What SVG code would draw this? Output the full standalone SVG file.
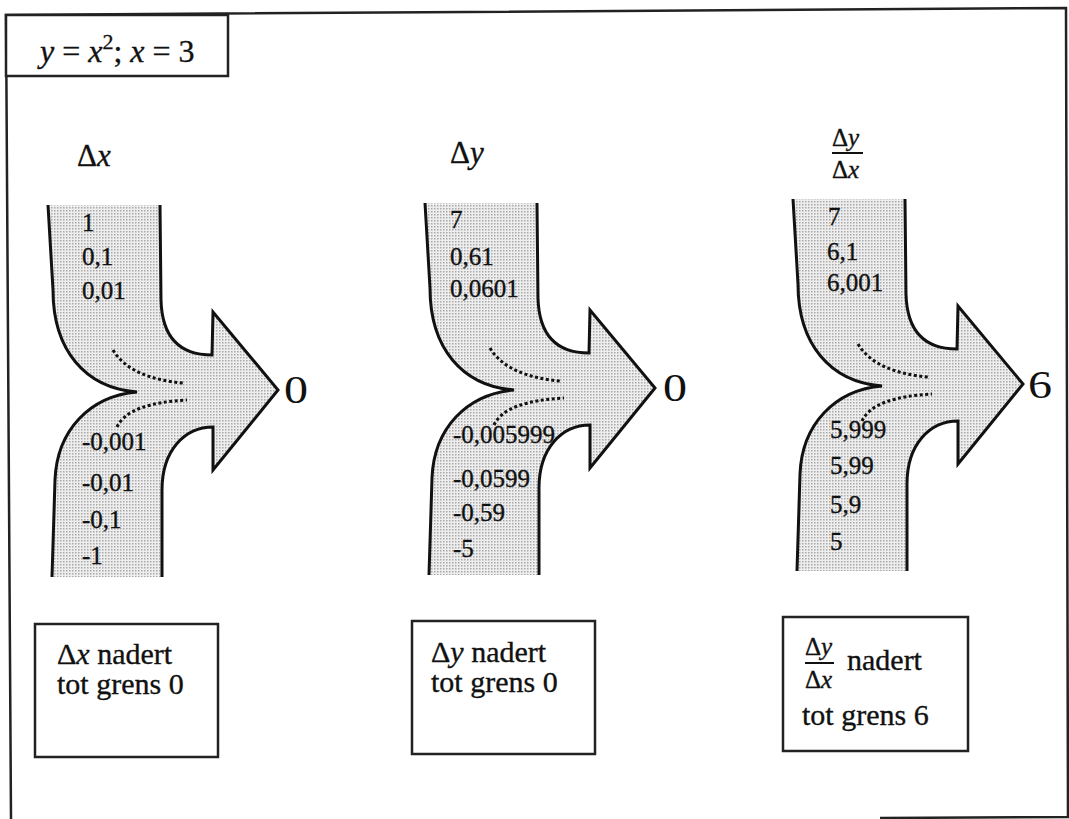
<svg xmlns="http://www.w3.org/2000/svg" xmlns:xlink="http://www.w3.org/1999/xlink" width="1069" height="819" viewBox="0 0 1069 819" font-family="'Liberation Serif', 'Times New Roman', serif">
<style>
  text { font-family: "Liberation Serif", "Times New Roman", serif; fill: #111; stroke: #111; stroke-width: 0.35; }
  .num { font-size: 25px; }
  .hdr { font-size: 31px; }
  .frac { font-size: 25px; }
  .box { font-size: 30px; }
  .big { font-size: 40px; stroke-width: 0; }
  .it { font-style: italic; }
  .edge { fill: none; stroke: #111; stroke-width: 3; stroke-linejoin: miter; }
  .dots { fill: none; stroke: #111; stroke-width: 3; stroke-dasharray: 3 2.5; }
  .frame { fill: none; stroke: #222; stroke-width: 2.5; }
  .rbox { fill: #fff; stroke: #222; stroke-width: 2.5; }
</style>
<defs>
  <pattern id="dotfill" width="3" height="3" patternUnits="userSpaceOnUse">
    <rect width="3" height="3" fill="#eeeeee"/>
    <rect width="1.5" height="1.5" fill="#a9a9a9"/>
  </pattern>
  <g id="arrow">
    <path fill="url(#dotfill)" d="M48,205 L53,290 C53,350 85,388 137,392 C90,396 57,430 55,480 L52,577 L162,577 L162,490 C162,450 185,427 213,427 L213,470 L278,390 L213,312 L212,355 C180,355 162,338 161,300 L160,205 Z"/>
    <path class="edge" d="M48,205 L53,290 C53,350 85,388 137,392 C90,396 57,430 55,480 L52,577"/>
    <path class="edge" d="M160,205 L161,300 C162,338 180,355 212,355 L213,312 L278,390 L213,470 L213,427 C185,427 162,450 162,490 L162,577"/>
    <path class="dots" d="M113,350 C125,370 150,380 183,383"/>
    <path class="dots" d="M117,427 C125,410 150,402 187,400"/>
  </g>
</defs>

<g id="frame">
  <path class="frame" d="M11,819 L6,15 L1066,8 L1068,817 L880,818"/>
</g>

<g id="title">
  <rect class="rbox" x="6" y="15" width="222" height="61"/>
  <text x="40" y="62" font-size="32"><tspan class="it">y</tspan> = <tspan class="it">x</tspan><tspan dy="-13" font-size="22">2</tspan><tspan dy="13">; </tspan><tspan class="it">x</tspan> = 3</text>
</g>

<g id="connectors">
  <use xlink:href="#arrow" href="#arrow"/>
  <use xlink:href="#arrow" href="#arrow" transform="translate(377,-2)"/>
  <use xlink:href="#arrow" href="#arrow" transform="translate(745,-6)"/>
</g>

<g id="col-dx">
  <text class="hdr" x="77" y="166">Δ<tspan class="it">x</tspan></text>
  <text class="num" x="82" y="231">1</text>
  <text class="num" x="82" y="265">0,1</text>
  <text class="num" x="82" y="299">0,01</text>
  <text class="num" x="82" y="450">-0,001</text>
  <text class="num" x="82" y="491">-0,01</text>
  <text class="num" x="82" y="528">-0,1</text>
  <text class="num" x="82" y="564">-1</text>
  <text class="big" transform="translate(284,403) scale(1.2,1)">0</text>
</g>

<g id="col-dy">
  <text class="hdr" x="450" y="163">Δ<tspan class="it">y</tspan></text>
  <text class="num" x="450" y="228">7</text>
  <text class="num" x="450" y="265">0,61</text>
  <text class="num" x="450" y="297">0,0601</text>
  <text class="num" x="453" y="443">-0,005999</text>
  <text class="num" x="453" y="487">-0,0599</text>
  <text class="num" x="453" y="521">-0,59</text>
  <text class="num" x="453" y="557">-5</text>
  <text class="big" transform="translate(663,401) scale(1.2,1)">0</text>
</g>

<g id="col-ratio">
  <text class="frac" x="832" y="146">Δ<tspan class="it">y</tspan></text>
  <line x1="832" y1="153" x2="863" y2="153" stroke="#111" stroke-width="2"/>
  <text class="frac" x="832" y="178">Δ<tspan class="it">x</tspan></text>
  <text class="num" x="828" y="225">7</text>
  <text class="num" x="827" y="260">6,1</text>
  <text class="num" x="827" y="291">6,001</text>
  <text class="num" x="830" y="438">5,999</text>
  <text class="num" x="830" y="474">5,99</text>
  <text class="num" x="830" y="513">5,9</text>
  <text class="num" x="830" y="550">5</text>
  <text class="big" transform="translate(1028,398) scale(1.2,1)">6</text>
</g>

<g id="box-dx">
  <rect class="rbox" x="35" y="624" width="183" height="133"/>
  <text class="box" x="57" y="664">Δ<tspan class="it">x</tspan> nadert</text>
  <text class="box" x="57" y="694">tot grens 0</text>
</g>

<g id="box-dy">
  <rect class="rbox" x="412" y="621" width="183" height="133"/>
  <text class="box" x="431" y="662">Δ<tspan class="it">y</tspan> nadert</text>
  <text class="box" x="431" y="692">tot grens 0</text>
</g>

<g id="box-ratio">
  <rect class="rbox" x="783" y="617" width="185" height="134"/>
  <text class="frac" x="805" y="655">Δ<tspan class="it">y</tspan></text>
  <line x1="805" y1="663" x2="834" y2="663" stroke="#111" stroke-width="2"/>
  <text class="frac" x="805" y="688">Δ<tspan class="it">x</tspan></text>
  <text class="box" x="847" y="670">nadert</text>
  <text class="box" x="802" y="725">tot grens 6</text>
</g>
</svg>
